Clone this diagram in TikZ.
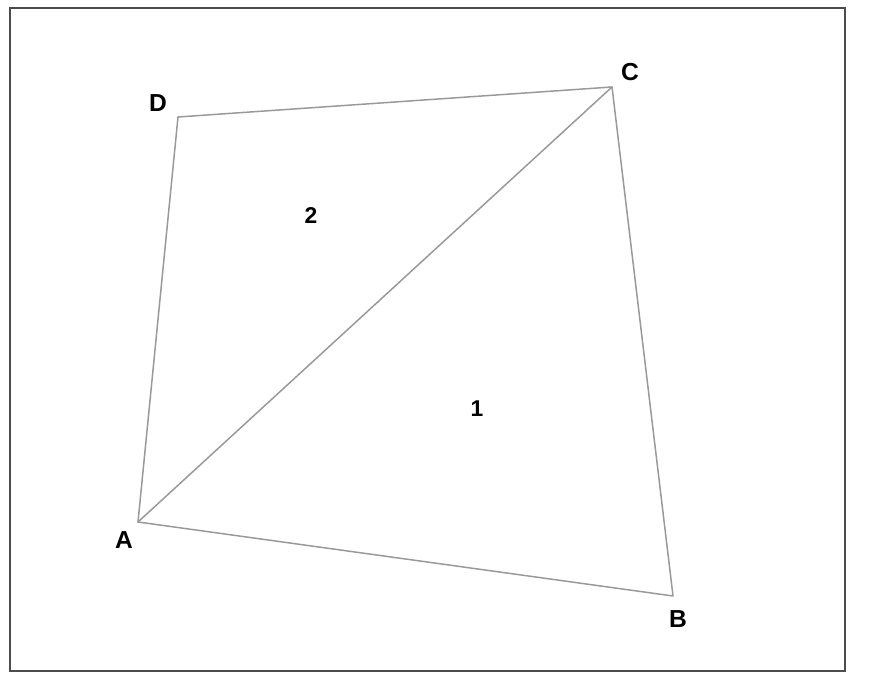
\documentclass[tikz,border=0pt]{standalone}
\usepackage{fontspec}
\setmainfont{Liberation Sans}
\usetikzlibrary{calc}
\usepackage{tkz-euclide}
\definecolor{EdgeClr}{rgb}{0.6,0.6,0.6}
\definecolor{FrameClr}{rgb}{0.3,0.3,0.3}
\tikzset{ptlabel/.style={font=\fontsize{14}{16}\selectfont\bfseries,inner sep=0pt},
  arealabel/.style={font=\fontsize{13}{15}\selectfont\bfseries,inner sep=0pt}}

\begin{document}
\begin{tikzpicture}
\useasboundingbox (0,0) rectangle (17.42,13.78);
\draw[color=FrameClr,line width=1.1pt] (0.2,0.36) rectangle (16.9,13.62);
\tkzSetUpLine[line width=0.85pt,color=EdgeClr]

\tkzDefPoint(2.76,3.34){A}
\tkzDefPoint(13.46,1.86){B}
\tkzDefPoint(12.24,12.04){C}
\tkzDefPoint(3.56,11.44){D}

\tkzDrawPolygon(A,B,C,D)
\tkzDrawSegments(A,C)

\node[ptlabel] (labA) at (2.48,2.98) {A};
\node[ptlabel] (labB) at (13.56,1.40) {B};
\node[ptlabel] (labC) at (12.60,12.34) {C};
\node[ptlabel] (labD) at (3.16,11.72) {D};

\node[arealabel] (area2) at (6.22,9.46) {2};
\node[arealabel] (area1) at (9.54,5.60) {1};

\end{tikzpicture}
\end{document}
